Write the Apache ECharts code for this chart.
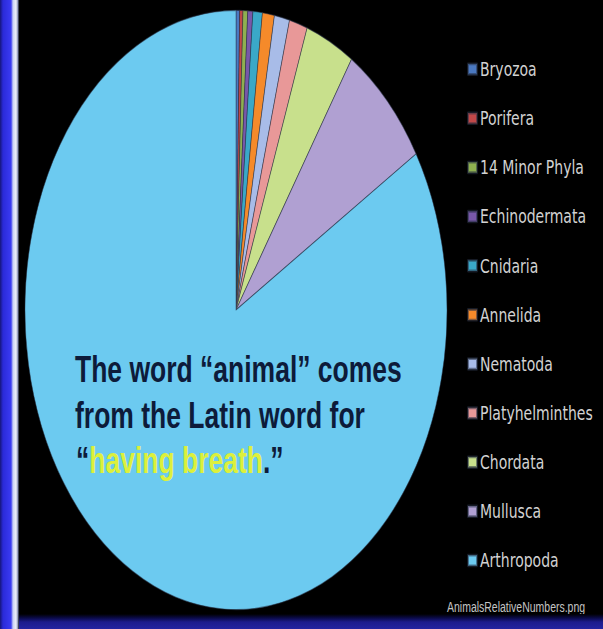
<!DOCTYPE html>
<html>
<head>
<meta charset="utf-8">
<script src="https://cdn.jsdelivr.net/npm/echarts@6/dist/echarts.min.js"></script>
<style>
  html, body { margin: 0; padding: 0; background: #000; width: 603px; height: 629px; overflow: hidden; }
  #chart { position: absolute; left: 0; top: 0; width: 603px; height: 443px; transform: scaleY(1.42); transform-origin: 0 0; }
  #leftBar { position: absolute; left: 0; top: 0; width: 19px; height: 629px; z-index: 5;
    background: linear-gradient(to right, #16167a 0px, #2a2ad8 3px, #3a3af2 11px, #c9d0f4 13px, #eef0fa 16px, #8088b0 18px, #000 19px); }
  #bottomBar { position: absolute; left: 0; top: 614px; width: 603px; height: 15px; z-index: 4;
    background: linear-gradient(to bottom, #000 0px, #0a0a48 4px, #1c1c8c 8px, #2424a0 15px); }
</style>
</head>
<body>
<div id="chart"></div>
<div id="leftBar"></div>
<div id="bottomBar"></div>
<script>
// Data (relative share of the pie, in degrees of the circle)
const categories = ['Bryozoa', 'Porifera', '14 Minor Phyla', 'Echinodermata', 'Cnidaria', 'Annelida',
                    'Nematoda', 'Platyhelminthes', 'Chordata', 'Mullusca', 'Arthropoda'];
const values = [1.0, 0.9, 1.3, 1.4, 2.6, 3.3, 4.2, 5.0, 13.5, 25.4, 301.4];
const colors = ['#4a78c0', '#c04848', '#8fb050', '#7858a8', '#3aa8c8', '#f58a2a',
                '#a8bce8', '#e89898', '#c8e08c', '#b0a0d2', '#6ccaf0'];
const captionLines = ['The word “animal” comes', 'from the Latin word for'];
const captionLast = ['“', 'having breath', '.”'];
const sourceText = 'AnimalsRelativeNumbers.png';

const chart = echarts.init(document.getElementById('chart'), null, { renderer: 'svg', width: 603, height: 443 });

const pieData = categories.map((name, i) => ({
  name: name,
  value: values[i],
  itemStyle: { color: colors[i] }
}));

chart.setOption({
  backgroundColor: 'transparent',
  animation: false,
  legend: {
    orient: 'vertical',
    left: 462,
    top: 36.7,
    itemWidth: 9,
    itemHeight: 7.5,
    itemGap: 20.6,
    icon: 'rect',
    selectedMode: false,
    data: categories,
    textStyle: { color: '#d2d2d2', fontFamily: 'DejaVu Sans', fontSize: 14, lineHeight: 14, padding: [0, 0, 0, -2] }
  },
  graphic: [
    {
      type: 'text', x: 75, y: 260, z: 10,
      style: { text: captionLines[0], fill: '#0d1b3a', font: 'bold 26.5px "Liberation Sans", Arial, sans-serif', verticalAlign: 'middle', align: 'left' }
    },
    {
      type: 'text', x: 75, y: 292.4, z: 10,
      style: { text: captionLines[1], fill: '#0d1b3a', font: 'bold 26.5px "Liberation Sans", Arial, sans-serif', verticalAlign: 'middle', align: 'left' }
    },
    {
      type: 'text', x: 76, y: 324, z: 10,
      style: {
        text: '{d|' + captionLast[0] + '}{y|' + captionLast[1] + '}{d|' + captionLast[2] + '}',
        verticalAlign: 'middle', align: 'left',
        rich: {
          d: { fill: '#0d1b3a', font: 'bold 26.5px "Liberation Sans", Arial, sans-serif' },
          y: { fill: '#dcf03c', font: 'bold 26.5px "Liberation Sans", Arial, sans-serif' }
        }
      }
    },
    {
      type: 'text', x: 447, y: 427.5, z: 10,
      style: { text: sourceText, fill: '#c4c4c4', font: '10.5px "Liberation Sans", Arial, sans-serif', verticalAlign: 'middle', align: 'left' }
    }
  ],
  series: [{
    type: 'pie',
    center: [236, 218.3],
    radius: 211,
    startAngle: 90,
    clockwise: true,
    label: { show: false },
    labelLine: { show: false },
    emphasis: { disabled: true },
    itemStyle: { borderColor: 'rgba(40,50,70,0.55)', borderWidth: 0.8 },
    data: pieData
  }]
});
</script>
</body>
</html>
